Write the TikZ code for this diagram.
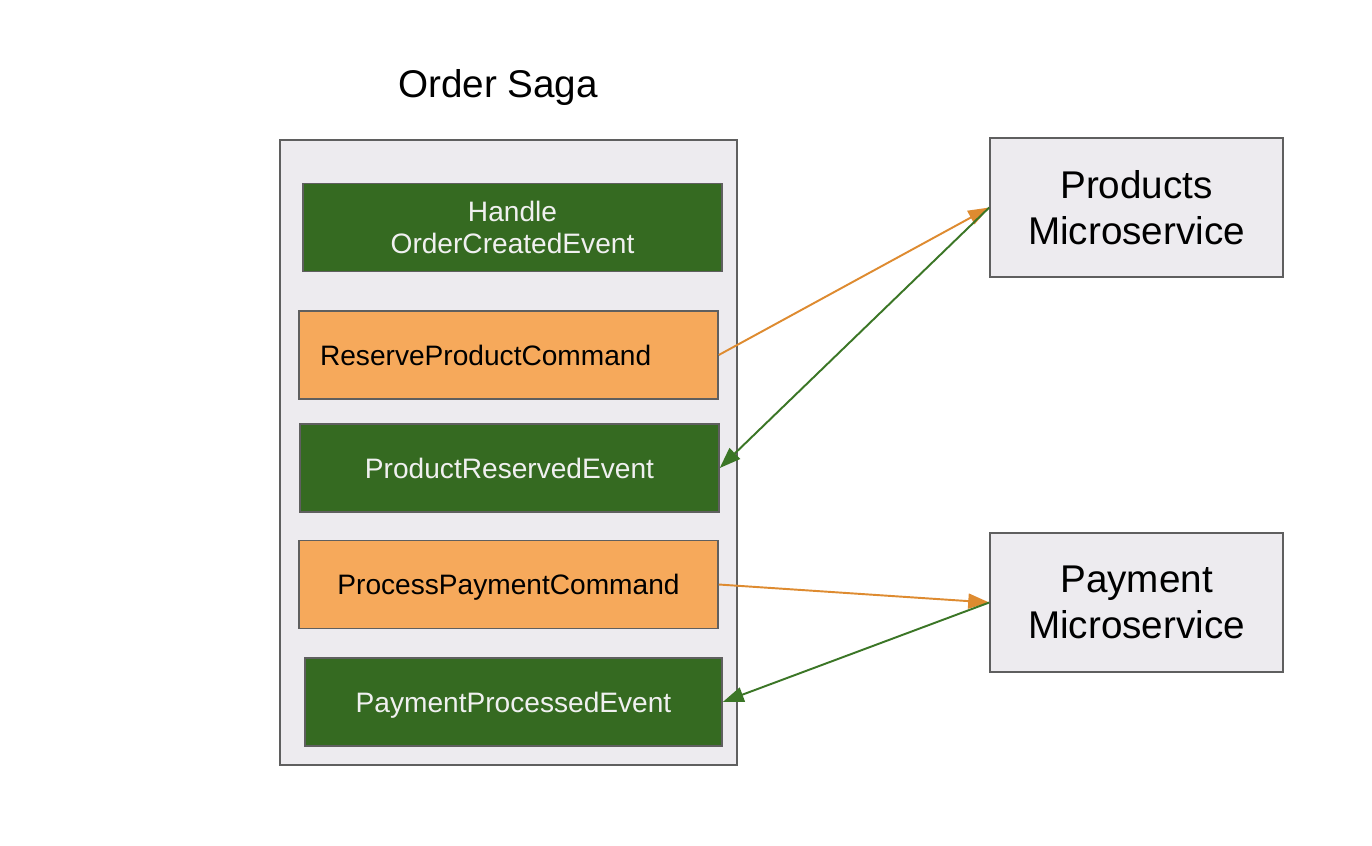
\documentclass[tikz,border=0pt]{standalone}
\usepackage{fontspec}
\setmainfont{Liberation Sans}
\usetikzlibrary{arrows.meta}

\definecolor{sagagray}{HTML}{EDEBEF}
\definecolor{edgegray}{HTML}{5F5F5F}
\definecolor{evgreen}{HTML}{356A21}
\definecolor{cmdorange}{HTML}{F6A95B}
\definecolor{arrorange}{HTML}{DE8B30}
\definecolor{arrgreen}{HTML}{3B7626}

\tikzset{
  event/.style={draw=edgegray, fill=evgreen, text=white!94!black, line width=0.9pt,
    minimum width=8.38cm, minimum height=1.76cm, align=center, inner sep=0pt,
    font=\fontsize{16}{18.5}\selectfont},
  command/.style={draw=edgegray, fill=cmdorange, text=black, line width=0.9pt,
    minimum width=8.38cm, minimum height=1.76cm, inner sep=0pt,
    font=\fontsize{16}{18.5}\selectfont},
  service/.style={draw=edgegray, fill=sagagray, line width=0.9pt,
    minimum width=5.86cm, minimum height=2.78cm, align=center, inner sep=0pt,
    font=\fontsize{22}{26}\selectfont},
  sendcmd/.style={draw=arrorange, line width=1.1pt, -{Triangle[length=0.42cm, width=0.3cm]}},
  getevent/.style={draw=arrgreen, line width=1.1pt, -{Triangle[length=0.42cm, width=0.3cm]}}
}

\begin{document}
\begin{tikzpicture}[x=0.02cm, y=-0.02cm]
\useasboundingbox[fill=white] (0,0) rectangle (1372,845);

\node[font=\fontsize{22}{26}\selectfont, text depth=0pt] (title) at (498,83) {Order Saga};
\node[draw=edgegray, fill=sagagray, line width=0.9pt, minimum width=9.14cm, minimum height=12.5cm] (saga) at (508.5,452.5) {};

\node[event] (handle) at (512.5,227.5) {Handle\\OrderCreatedEvent};
\node[command, text width=7.54cm, align=left, text depth=0pt] (reserve) at (508.5,355) {ReserveProductCommand};
\node[event, text depth=0pt] (reserved) at (509.5,468) {ProductReservedEvent};
\node[command, align=center, text depth=0pt] (process) at (508.5,584.5) {ProcessPaymentCommand};
\node[event, minimum width=8.34cm, text depth=0pt] (processed) at (513.5,702) {PaymentProcessedEvent};

\node[service] (products) at (1136.5,207.5) {Products\\Microservice};
\node[service] (payment) at (1136.5,602.5) {Payment\\Microservice};

\path[sendcmd] (reserve.east) -- (products.west);
\path[getevent] (products.west) -- (reserved.east);
\path[sendcmd] (process.east) -- (payment.west);
\path[getevent] (payment.west) -- (processed.east);
\end{tikzpicture}
\end{document}
